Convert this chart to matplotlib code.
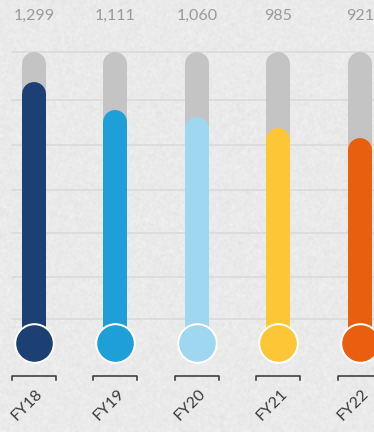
import numpy as np
import matplotlib.pyplot as plt

# Yearly figures, FY18 - FY22
years = ["FY18", "FY19", "FY20", "FY21", "FY22"]
values = [1299, 1111, 1060, 985, 921]
value_labels = ["1,299", "1,111", "1,060", "985", "921"]
colors = ["#1c3f74", "#1e9fd8", "#9fd7f1", "#fdc636", "#ea5e10"]

track_top = 1500      # full height of the grey track
bulb_level = -462     # where the round bulb sits
grid_levels = [1500, 1180, 870, 570, 280, -15, -300]

W, H, DPI = 374, 432, 100
YMIN, YMAX = -1062, 1851
XMIN, XMAX = -0.417, 4.172

fig = plt.figure(figsize=(W / DPI, H / DPI), dpi=DPI)
fig.patch.set_facecolor("#f2f2f2")
ax = fig.add_axes([0, 0, 1, 1])
ax.set_xlim(XMIN, XMAX)
ax.set_ylim(YMIN, YMAX)
ax.axis("off")

# paper-like background
rng = np.random.default_rng(7)
fine = rng.normal(0, 1, (H // 2, W // 2))
ax.imshow(fine, cmap="gray", extent=(XMIN, XMAX, YMIN, YMAX), aspect="auto",
          interpolation="bilinear", vmin=-3, vmax=3, alpha=0.07, zorder=0)

px_per_unit = H / (YMAX - YMIN)
bar_px = 24
cap = (bar_px / 2) / px_per_unit   # round cap overhang in data units
lw = bar_px * 72 / DPI

x = np.arange(len(years))
for g in grid_levels:
    ax.plot([-0.27, XMAX], [g, g], color="#d9d9d9", lw=1.1, zorder=1)

label_font = dict(family=["Lato", "DejaVu Sans"])

for i, (v, c) in enumerate(zip(values, colors)):
    ax.plot([x[i], x[i]], [bulb_level, track_top - cap], color="#c4c4c4",
            lw=lw, solid_capstyle="round", zorder=2)
    ax.plot([x[i], x[i]], [bulb_level, v - cap], color=c,
            lw=lw, solid_capstyle="round", zorder=3)
    ax.scatter(x[i], bulb_level, s=(38.6 * 72 / DPI) ** 2, color=c,
               edgecolor="white", linewidth=2 * 72 / DPI, zorder=4)
    ax.text(x[i], 1745, value_labels[i], ha="center", va="center",
            fontsize=11.5, color="#9a9a9a", zorder=5, **label_font)

    # bracket under each bulb
    by = -685
    tick = 27
    ax.plot([x[i] - 0.27, x[i] - 0.27, x[i] + 0.27, x[i] + 0.27],
            [by - tick, by, by, by - tick], color="#333333", lw=1.1, zorder=2)
    ax.text(x[i] + 0.14, -755, years[i], rotation=45, ha="right", va="top",
            fontsize=11.5, color="#3a3a3a", zorder=5, **label_font)

fig.savefig("out.png", dpi=DPI, facecolor=fig.get_facecolor())
